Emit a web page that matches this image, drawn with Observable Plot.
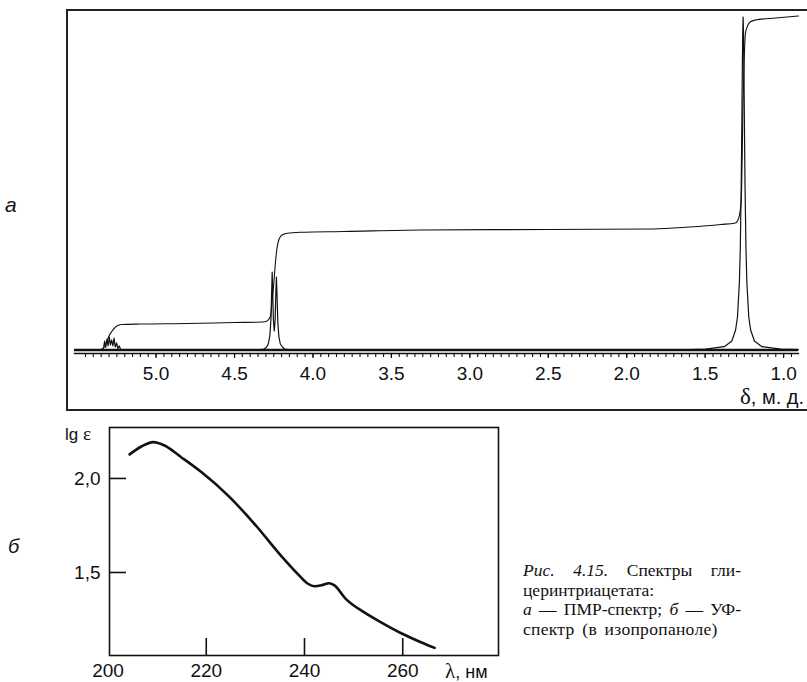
<!DOCTYPE html>
<html><head><meta charset="utf-8">
<script src="https://cdn.jsdelivr.net/npm/d3@7"></script>
<script src="https://cdn.jsdelivr.net/npm/@observablehq/plot@0.6"></script>
<style>
html,body{margin:0;padding:0;background:#fff;overflow:hidden;}
#root{position:relative;width:807px;height:682px;overflow:hidden;font-family:"Liberation Sans",Arial,sans-serif;color:#111;}
#nmr,#uv,#ann{position:absolute;left:0;}
#nmr{top:0;}
#uv{top:410px;}
#ann{top:0;pointer-events:none;}
#frameA{position:absolute;left:66px;top:9px;width:780px;height:402px;box-sizing:border-box;border:2px solid #222;}
#caption{position:absolute;left:523px;top:561px;font-family:"Liberation Serif","Times New Roman",serif;font-size:17.5px;line-height:19.5px;color:#111;}
#caption .j{width:218px;text-align:justify;text-align-last:justify;white-space:nowrap;}
#caption .l{white-space:nowrap;}
#caption .l4{white-space:nowrap;letter-spacing:0.3px;word-spacing:3px;}
</style></head>
<body><div id="root">
<div id="frameA"></div>
<div id="nmr"></div>
<div id="uv"></div>
<svg id="ann" width="807" height="682" font-family="Liberation Sans, Arial, sans-serif" fill="#111">
  <text x="5" y="212" font-size="21" font-style="italic">а</text>
  <text x="8" y="553" font-size="20" font-style="italic">б</text>
  <text x="740" y="404"><tspan font-family="Liberation Serif, Times New Roman, serif" font-size="23">δ</tspan><tspan font-size="20">, м. д.</tspan></text>
  <text x="65" y="440" font-size="17">lg <tspan font-family="Liberation Serif, Times New Roman, serif" font-size="19">ε</tspan></text>
  <text x="445" y="678"><tspan font-family="Liberation Serif, Times New Roman, serif" font-size="21">λ</tspan><tspan font-size="18">, нм</tspan></text>
</svg>
<div id="caption">
  <div class="j"><i>Рис.</i> <i>4.15.</i> Спектры гли-</div>
  <div class="l">церинтриацетата:</div>
  <div class="j"><i>а</i> — ПМР-спектр; <i>б</i> — УФ-</div>
  <div class="l4">спектр (в изопропаноле)</div>
</div>
</div>
<script>
// ---------- Panel а: ПМР-спектр ----------
const nmrDomain = [5.52, 0.905];
const nmrMajorTicks = [5.0, 4.5, 4.0, 3.5, 3.0, 2.5, 2.0, 1.5, 1.0];
const nmrMajorLabels = ["5.0", "4.5", "4.0", "3.5", "3.0", "2.5", "2.0", "1.5", "1.0"];
const nmrMinorTicks = d3.range(19, 110).map(i => +(i * 0.05).toFixed(2)); // 0.95 … 5.45

// multiplet CH (≈5.2–5.35 ppm): [δ, intensity]
const multipletCH = [
  [5.52, 0], [5.345, 0], [5.335, 2], [5.328, 9], [5.321, 2.5], [5.313, 11], [5.306, 4],
  [5.298, 13], [5.291, 5], [5.283, 10], [5.275, 4], [5.268, 12], [5.260, 3],
  [5.252, 7], [5.243, 1.5], [5.235, 4], [5.225, 0.5], [5.21, 0]
];
// doublet CH2 (≈4.23–4.26 ppm)
const doubletCH2 = [
  [4.36, 0], [4.31, 1], [4.295, 3], [4.285, 6], [4.275, 14], [4.268, 30], [4.263, 60],
  [4.260, 78], [4.257, 60], [4.252, 30], [4.2465, 19], [4.241, 30], [4.237, 55],
  [4.233, 73], [4.229, 55], [4.224, 28], [4.217, 13], [4.208, 6], [4.195, 3],
  [4.18, 1], [4.15, 0.3], [4.10, 0]
];
// singlet CH3 (≈1.26 ppm)
const singletCH3 = [
  [1.70, 0], [1.60, 0.3], [1.498, 0.8], [1.378, 3.3], [1.330, 9], [1.306, 20], [1.294, 33],
  [1.282, 67], [1.276, 102], [1.270, 166], [1.267, 213], [1.264, 266], [1.261, 313],
  [1.258, 333], [1.255, 313], [1.252, 266], [1.249, 213], [1.246, 166], [1.240, 102],
  [1.234, 67], [1.222, 33], [1.210, 20], [1.186, 9], [1.138, 3.3], [1.018, 0.8], [0.905, 0.3]
];
// integral curve
const integralCurve = [
  [5.36, 0], [5.33, 3], [5.31, 10], [5.30, 14], [5.28, 19], [5.265, 22], [5.25, 24],
  [5.22, 25.5], [5.10, 26], [4.80, 26.5], [4.50, 27.5], [4.32, 28], [4.30, 28.5],
  [4.28, 31], [4.27, 34], [4.26, 50], [4.25, 66], [4.24, 86], [4.23, 101], [4.22, 109],
  [4.207, 113.5], [4.19, 115.5], [4.164, 116.7], [4.08, 117.7], [3.80, 118.5],
  [3.31, 120], [2.50, 120.5], [1.83, 121], [1.60, 123], [1.40, 125.5], [1.307, 127],
  [1.286, 132], [1.270, 150], [1.258, 250], [1.243, 317], [1.230, 324], [1.211, 328.3],
  [1.179, 330], [1.05, 332], [0.905, 334]
];
const spectrum = [...multipletCH, ...doubletCH2, ...singletCH3];

const nmr = Plot.plot({
  width: 807, height: 412,
  marginLeft: 74, marginRight: 9, marginTop: 15, marginBottom: 59,
  style: {background: "transparent", fontFamily: "Liberation Sans, Arial, sans-serif", fontSize: "19px", color: "#111"},
  x: {domain: nmrDomain, label: null},
  y: {domain: [-3.5, 334.5], axis: null, label: null},
  marks: [
    Plot.frame({anchor: "bottom", stroke: "#111", strokeWidth: 1.3}),
    Plot.ruleY([0], {stroke: "#111", strokeWidth: 2.6}),
    Plot.axisX(nmrMinorTicks, {anchor: "bottom", label: null, tickSize: 4, tickFormat: () => "", strokeWidth: 1.1, stroke: "#111"}),
    Plot.axisX(nmrMajorTicks, {anchor: "bottom", label: null, tickSize: 5, tickPadding: 8, fontSize: 19, strokeWidth: 1.2, stroke: "#111", fill: "#111",
      tickFormat: d => nmrMajorLabels[nmrMajorTicks.indexOf(d)]}),
    Plot.line(spectrum, {x: d => d[0], y: d => d[1], stroke: "#111", strokeWidth: 1.2}),
    Plot.line(integralCurve, {x: d => d[0], y: d => d[1], stroke: "#111", strokeWidth: 1.1, curve: "monotone-x"})
  ]
});
document.getElementById("nmr").appendChild(nmr);

// ---------- Panel б: УФ-спектр ----------
const uvWavelength = [204.4, 206.8, 209.2, 211.5, 214.9, 219.0, 224.4, 229.8, 235.2, 238.6, 240.7, 242.0, 243.5, 245.0, 246.1, 248.4, 252.1, 255.5, 259.9, 263.7, 266.5];
const uvLgEps      = [2.128, 2.170, 2.193, 2.175, 2.113, 2.034, 1.910, 1.759, 1.590, 1.493, 1.440, 1.427, 1.432, 1.443, 1.431, 1.360, 1.289, 1.236, 1.174, 1.129, 1.099];
const uvXTicks = [200, 220, 240, 260];
const uvXLabels = ["200", "220", "240", "260"];
const uvYTicks = [1.5, 2.0];
const uvYLabels = ["1,5", "2,0"];
const uvData = uvWavelength.map((w, i) => ({w, e: uvLgEps[i]}));

const uvW = 505, uvML = 109, uvMR = 7, uvMT = 17, uvMB = 27, uvH = 272;
const uv = Plot.plot({
  width: uvW, height: uvH,
  marginLeft: uvML, marginRight: uvMR, marginTop: uvMT, marginBottom: uvMB,
  style: {background: "transparent", fontFamily: "Liberation Sans, Arial, sans-serif", fontSize: "19px", color: "#111"},
  x: {domain: [200.3, 279.5], label: null},
  y: {domain: [1.0585, 2.271], label: null},
  marks: [
    Plot.frame({stroke: "#111", strokeWidth: 1.6}),
    Plot.ruleY(uvYTicks, {stroke: "#111", strokeWidth: 1.6, insetRight: (uvW - uvML - uvMR) - 17}),
    Plot.ruleX(uvXTicks.filter(t => t > 200), {stroke: "#111", strokeWidth: 1.6, insetTop: (uvH - uvMT - uvMB) - 17}),
    Plot.axisX(uvXTicks, {anchor: "bottom", label: null, tickSize: 0, tickPadding: 8, fontSize: 19, fill: "#111",
      tickFormat: d => uvXLabels[uvXTicks.indexOf(d)]}),
    Plot.axisY(uvYTicks, {anchor: "left", label: null, tickSize: 0, tickPadding: 9, fontSize: 19, fill: "#111",
      tickFormat: d => uvYLabels[uvYTicks.indexOf(d)]}),
    Plot.line(uvData, {x: "w", y: "e", stroke: "#111", strokeWidth: 2.6, curve: "monotone-x"})
  ]
});
document.getElementById("uv").appendChild(uv);
</script>
</body></html>
